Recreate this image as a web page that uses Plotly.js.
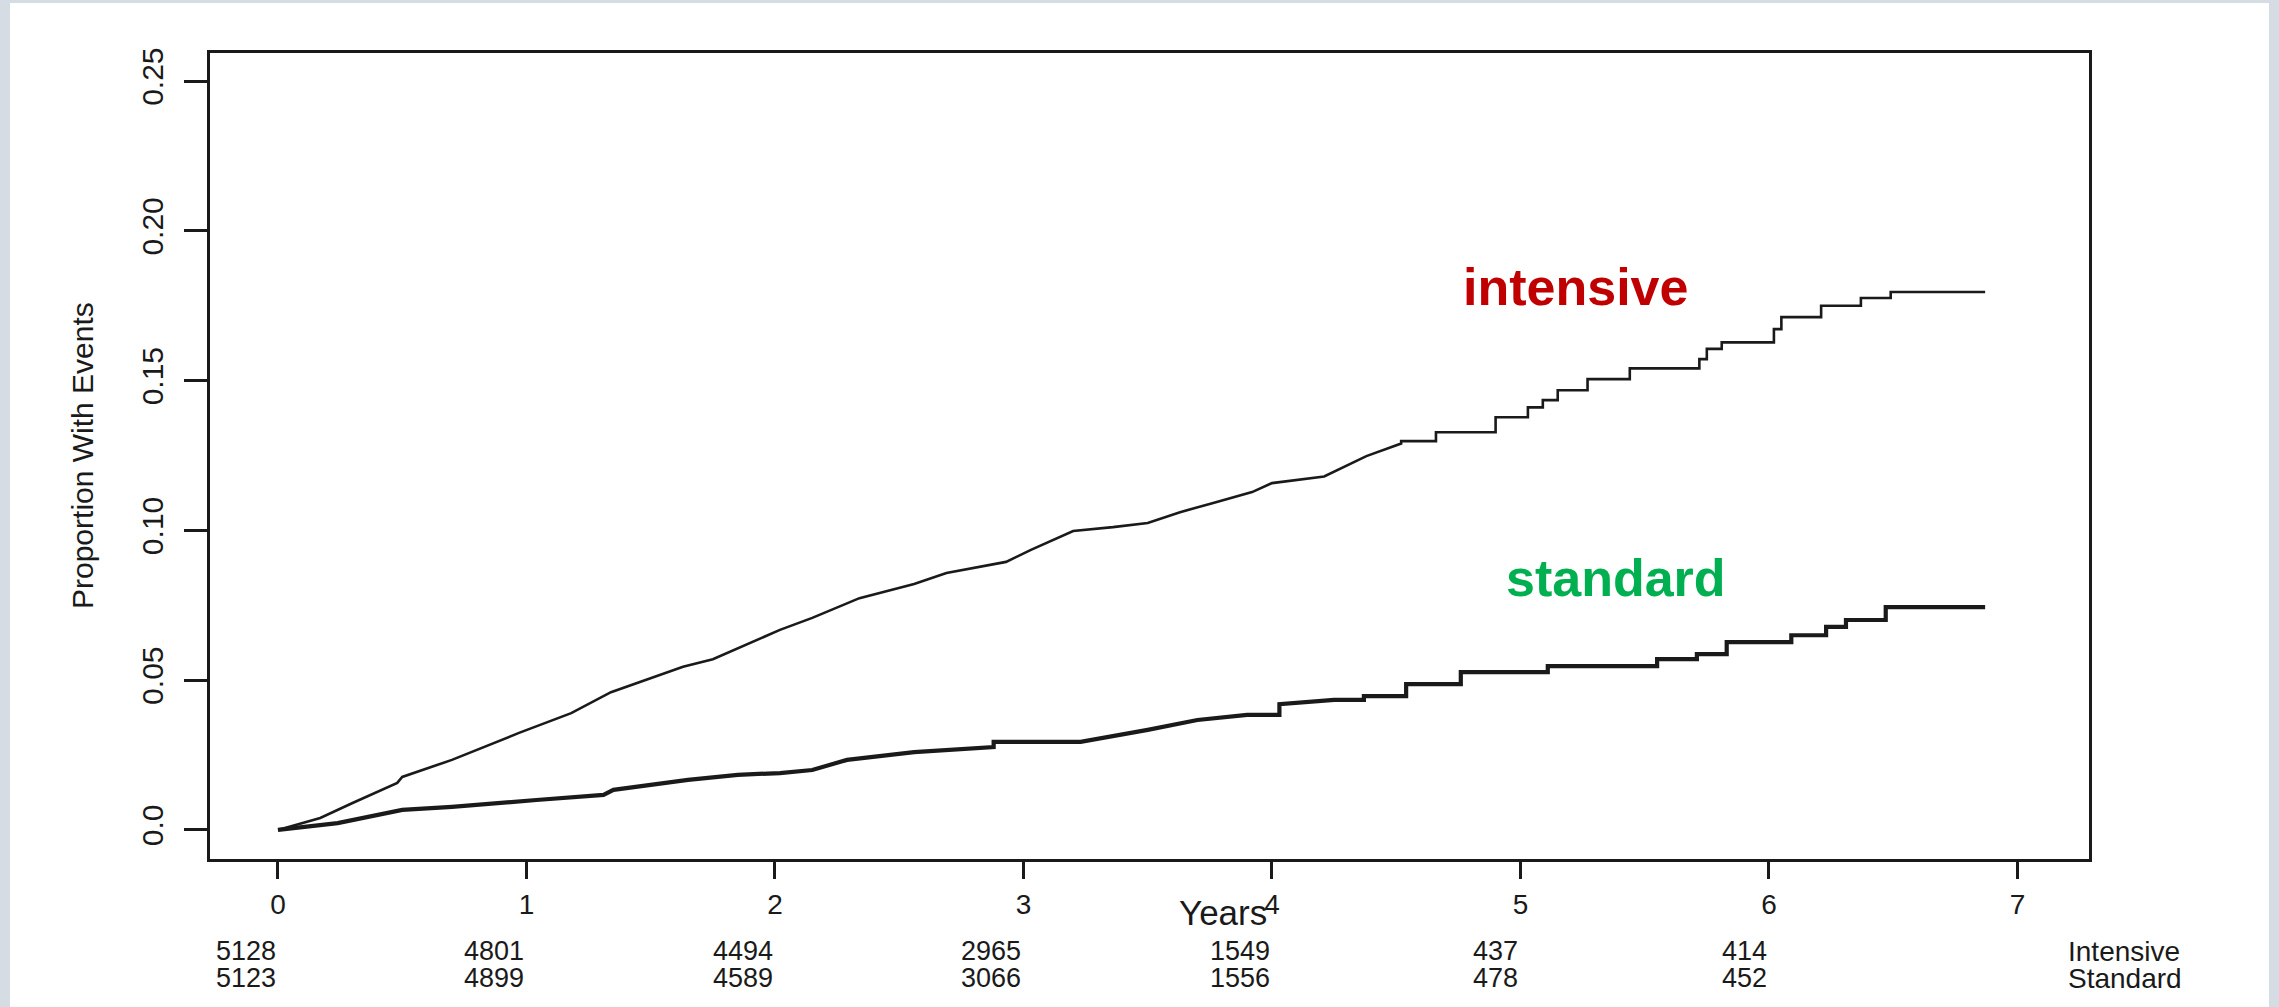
<!DOCTYPE html>
<html>
<head>
<meta charset="utf-8">
<script src="https://cdn.plot.ly/plotly-3.0.1.min.js"></script>
<style>
  html, body { margin: 0; padding: 0; background: #D6DCE4; width: 2279px; height: 1007px; overflow: hidden; }
  #chart { position: absolute; left: 10px; top: 3px; width: 2259px; height: 1004px; background: #ffffff; }
</style>
</head>
<body>
<div id="chart"></div>
<script>
// ---- data ----
const intensiveT = [0, 0.17, 0.30, 0.48, 0.50, 0.70, 0.97, 1.18, 1.34, 1.63, 1.75, 2.02, 2.15, 2.29, 2.34, 2.56, 2.69, 2.93, 3.03, 3.20,
  3.36, 3.50, 3.63, 3.76, 3.92, 4.00, 4.07, 4.21, 4.38, 4.52, 4.52, 4.66, 4.66, 4.90, 4.90, 5.03, 5.03, 5.09, 5.09, 5.15,
  5.15, 5.27, 5.27, 5.44, 5.44, 5.72, 5.72, 5.75, 5.75, 5.81, 5.81, 6.02, 6.02, 6.05, 6.05, 6.21, 6.21, 6.37, 6.37, 6.49,
  6.49, 6.87];
const intensiveP = [0, 0.004, 0.009, 0.0157, 0.0177, 0.0234, 0.0324, 0.039, 0.046, 0.0545, 0.057, 0.0668, 0.0708, 0.0757, 0.0774, 0.0821, 0.0858, 0.0895, 0.0935, 0.0998,
  0.1011, 0.1025, 0.1061, 0.1091, 0.1128, 0.1158, 0.1165, 0.118, 0.1248, 0.129, 0.1298, 0.1298, 0.1328, 0.1328, 0.1378, 0.1378, 0.1411, 0.1411, 0.1435, 0.1435,
  0.1468, 0.1468, 0.1505, 0.1505, 0.1541, 0.1541, 0.1572, 0.1572, 0.1606, 0.1606, 0.1628, 0.1628, 0.1672, 0.1672, 0.1712, 0.1712, 0.175, 0.175, 0.1776, 0.1776,
  0.1796, 0.1796];

const standardT = [0, 0.24, 0.50, 0.70, 1.04, 1.31, 1.35, 1.65, 1.85, 2.02, 2.15, 2.29, 2.56, 2.88, 2.88, 3.23, 3.50, 3.70, 3.90, 4.03,
  4.03, 4.25, 4.37, 4.37, 4.54, 4.54, 4.76, 4.76, 5.11, 5.11, 5.55, 5.55, 5.71, 5.71, 5.83, 5.83, 6.09, 6.09, 6.23, 6.23,
  6.31, 6.31, 6.47, 6.47, 6.87];
const standardP = [0, 0.0023, 0.0067, 0.0077, 0.010, 0.0117, 0.0134, 0.0167, 0.0184, 0.019, 0.020, 0.0234, 0.026, 0.0277, 0.0294, 0.0294, 0.0334, 0.0367, 0.0384, 0.0384,
  0.042, 0.0434, 0.0434, 0.0447, 0.0447, 0.0487, 0.0487, 0.0527, 0.0527, 0.0547, 0.0547, 0.057, 0.057, 0.0587, 0.0587, 0.0627, 0.0627, 0.065, 0.065, 0.0678,
  0.0678, 0.0701, 0.0701, 0.0744, 0.0744];

const riskTimes = [0, 1, 2, 3, 4, 5, 6];
const intensiveAtRisk = [5128, 4801, 4494, 2965, 1549, 437, 414];
const standardAtRisk = [5123, 4899, 4589, 3066, 1556, 478, 452];
const rowLabels = ["Intensive", "Standard"];

const xTickVals = [0, 1, 2, 3, 4, 5, 6, 7];
const yTickVals = [0, 0.05, 0.10, 0.15, 0.20, 0.25];
const yTickText = ["0.0", "0.05", "0.10", "0.15", "0.20", "0.25"];

const xTitle = "Years";
const yTitle = "Proportion With Events";
const curveLabels = ["intensive", "standard"];

// ---- chart ----
const FONT = "Liberation Sans, Arial, Helvetica, sans-serif";
const INK = "#1a1a1a";

const traces = [
  { x: intensiveT, y: intensiveP, type: "scatter", mode: "lines", name: "Intensive",
    line: { color: INK, width: 2.6, shape: "linear" }, hoverinfo: "skip" },
  { x: standardT, y: standardP, type: "scatter", mode: "lines", name: "Standard",
    line: { color: INK, width: 4.2, shape: "linear" }, hoverinfo: "skip" }
];

const annotations = [];
// risk table
riskTimes.forEach((t, i) => {
  annotations.push({ x: t, xref: "x", y: 0, yref: "paper", yanchor: "middle", xanchor: "right",
    yshift: -92, text: String(intensiveAtRisk[i]), showarrow: false,
    font: { family: FONT, size: 27, color: INK } });
  annotations.push({ x: t, xref: "x", y: 0, yref: "paper", yanchor: "middle", xanchor: "right",
    yshift: -119, text: String(standardAtRisk[i]), showarrow: false,
    font: { family: FONT, size: 27, color: INK } });
});
annotations.push({ x: 0.988, xref: "paper", y: 0, yref: "paper", yanchor: "middle", xanchor: "left",
  yshift: -92, text: rowLabels[0], showarrow: false, font: { family: FONT, size: 28, color: INK } });
annotations.push({ x: 0.988, xref: "paper", y: 0, yref: "paper", yanchor: "middle", xanchor: "left",
  yshift: -119, text: rowLabels[1], showarrow: false, font: { family: FONT, size: 28, color: INK } });
// axis titles
annotations.push({ x: 0.5635, xref: "paper", y: 0, yref: "paper", xanchor: "right", yanchor: "middle",
  yshift: -53, text: xTitle, showarrow: false, font: { family: FONT, size: 35, color: INK } });
annotations.push({ x: 0, xref: "paper", y: 0.5, yref: "paper", xanchor: "center", yanchor: "middle",
  xshift: -128, textangle: -90, text: yTitle, showarrow: false, font: { family: FONT, size: 30, color: INK } });
// curve labels
annotations.push({ x: 5.22, xref: "x", y: 0.1812, yref: "y", xanchor: "center", yanchor: "middle",
  text: "<b>" + curveLabels[0] + "</b>", showarrow: false, font: { family: FONT, size: 52, color: "#C00000" } });
annotations.push({ x: 5.385, xref: "x", y: 0.0841, yref: "y", xanchor: "center", yanchor: "middle",
  text: "<b>" + curveLabels[1] + "</b>", showarrow: false, font: { family: FONT, size: 52, color: "#00B050" } });

const layout = {
  width: 2259, height: 1004,
  paper_bgcolor: "#ffffff", plot_bgcolor: "#ffffff",
  margin: { l: 200, r: 180, t: 50, b: 148, pad: 0 },
  showlegend: false,
  xaxis: {
    range: [-0.2736, 7.288], tickvals: xTickVals, ticks: "outside", ticklen: 17, tickwidth: 3, tickcolor: INK,
    showline: true, linecolor: INK, linewidth: 3, mirror: true, showgrid: false, zeroline: false,
    tickfont: { family: FONT, size: 28, color: INK }, ticklabelstandoff: 1
  },
  yaxis: {
    range: [-0.0097, 0.2594], tickvals: yTickVals, ticktext: yTickText, ticks: "outside", ticklen: 23, tickwidth: 3, tickcolor: INK,
    showline: true, linecolor: INK, linewidth: 3, mirror: true, showgrid: false, zeroline: false,
    tickangle: -90, tickfont: { family: FONT, size: 30, color: INK }, ticklabelstandoff: 9
  },
  annotations: annotations
};

Plotly.newPlot("chart", traces, layout, { staticPlot: true, displayModeBar: false });
</script>
</body>
</html>
